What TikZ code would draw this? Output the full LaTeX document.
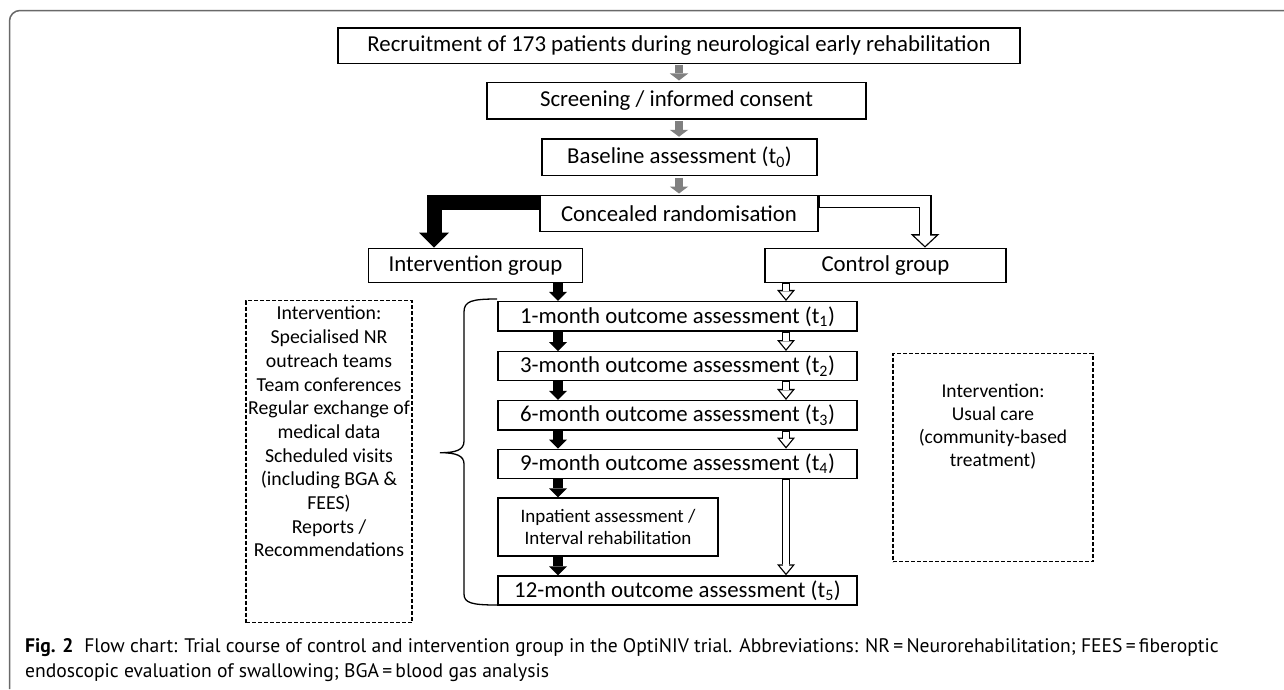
\documentclass[tikz,border=0pt]{standalone}
\usepackage{fontspec}
\setmainfont{Carlito}
\newfontfamily\capfont{PT Sans}
\usetikzlibrary{arrows.meta,calc}
\definecolor{framegray}{RGB}{105,105,105}
\definecolor{arrgray}{RGB}{128,128,128}
\begin{document}
\begin{tikzpicture}[x=1pt,y=-1pt,
  box/.style={draw=black, line width=1.4pt, inner sep=0pt, align=center, font=\fontsize{22.8}{26}\selectfont},
  dbox/.style={draw=black, line width=1.2pt, dash pattern=on 4pt off 2pt, inner sep=0pt},
  ltext/.style={inner sep=0pt, align=center, font=\fontsize{19.8}{23.7}\selectfont},
  rtext/.style={inner sep=0pt, align=center, font=\fontsize{19.5}{22.8}\selectfont},
  grayarr/.style={draw=arrgray, line width=8pt, -{Triangle[width=18.5pt,length=7pt,line width=0pt]}, shorten <=1.5pt, shorten >=1.5pt},
  blkarr/.style={draw=black, line width=10.5pt, -{Triangle[width=18pt,length=9pt,line width=0pt]}},
  holarr/.style={draw=black, line width=8.5pt, -{Triangle[width=18pt,length=11pt,line width=0pt]},
     postaction={draw=white, line width=5.9pt, -{Triangle[width=12.5pt,length=7.6pt,line width=0pt]}, shorten >=2.05pt, shorten <=1pt}},
  bigblk/.style={draw=black, line width=15pt, line join=miter, -{Triangle[width=30pt,length=15pt,line width=0pt]}},
  bighol/.style={draw=black, line width=13pt, line join=miter, -{Triangle[width=28.6pt,length=13.4pt,line width=0pt]},
     postaction={draw=white, line width=10.4pt, line join=miter, -{Triangle[width=22pt,length=10.3pt,line width=0pt]}, shorten >=1.8pt, shorten <=1pt}}
]
\useasboundingbox (0,0) rectangle (1284,689);
\fill[white] (0,0) rectangle (1284,689);
% outer frame
\draw[framegray, line width=1.5pt] (9.5,689) -- (9.5,21) arc[start angle=180, end angle=90, radius=10.5pt] -- (1284,10.5);

% flow boxes
\node[box, minimum width=682pt, minimum height=35.3pt] (rec) at (679,45.6) {Recruitment of 173 patients during neurological early rehabilitation};
\node[box, minimum width=379pt, minimum height=36.3pt] (scr) at (676.5,100.8) {Screening / informed consent};
\node[box, minimum width=275pt, minimum height=36.7pt] (base) at (679.5,157.3) {Baseline assessment (t\textsubscript{0})};
\node[box, minimum width=278pt, minimum height=36pt] (conc) at (679,213.7) {Concealed randomisation};
\node[box, minimum width=214pt, minimum height=34.4pt] (intg) at (475.5,265.5) {Intervention group};
\node[box, minimum width=241pt, minimum height=34.4pt] (ctrl) at (885.5,265.5) {Control group};
\node[box, minimum width=359pt, minimum height=29.3pt] (m1) at (677.5,316.3) {1-month outcome assessment (t\textsubscript{1})};
\node[box, minimum width=359pt, minimum height=29pt] (m3) at (677.5,366.2) {3-month outcome assessment (t\textsubscript{2})};
\node[box, minimum width=359pt, minimum height=29.3pt] (m6) at (677.5,415.3) {6-month outcome assessment (t\textsubscript{3})};
\node[box, minimum width=359pt, minimum height=29.4pt] (m9) at (677.5,464) {9-month outcome assessment (t\textsubscript{4})};
\node[box, minimum width=220pt, minimum height=58pt, font=\fontsize{19}{22.6}\selectfont] (inp) at (608,527) {Inpatient assessment /\\Interval rehabilitation};
\node[box, minimum width=359pt, minimum height=29pt] (m12) at (677.5,590.5) {12-month outcome assessment (t\textsubscript{5})};

% dashed boxes
\node[dbox, minimum width=166pt, minimum height=322pt, anchor=north] (lbox) at (329,300) {};
\node[ltext, anchor=north] (ltx) at ([yshift=-6pt]lbox.north) {Intervention:\\Specialised NR\\outreach teams\\Team conferences\\Regular exchange of\\medical data\\Scheduled visits\\(including BGA \&\\FEES)\\Reports /\\Recommendations};
\node[dbox, minimum width=200pt, minimum height=208pt, anchor=north] (rbox) at (993,353) {};
\node[rtext, anchor=north] (rtx) at ([yshift=-31pt]rbox.north) {Intervention:\\Usual care\\(community-based\\treatment)};

% columns
\coordinate (xa) at (558,0);
\coordinate (xb) at (786,0);

% gray arrows
\draw[grayarr] (rec.south) -- (scr.north -| rec.south);
\draw[grayarr] (scr.south -| rec.south) -- (base.north -| rec.south);
\draw[grayarr] (base.south -| rec.south) -- (conc.north -| rec.south);

% randomisation arrows
\draw[bigblk] ([yshift=-7.5pt]conc.north west) -| ([xshift=-41.5pt]intg.north);
\draw[bighol] ([yshift=-6.5pt]conc.north east) -| ([xshift=39.5pt]ctrl.north);

% intervention column
\draw[blkarr] (intg.south -| xa) -- (m1.north -| xa);
\draw[blkarr] (m1.south -| xa) -- (m3.north -| xa);
\draw[blkarr] (m3.south -| xa) -- (m6.north -| xa);
\draw[blkarr] (m6.south -| xa) -- (m9.north -| xa);
\draw[blkarr] (m9.south -| xa) -- (inp.north -| xa);
\draw[blkarr] (inp.south -| xa) -- (m12.north -| xa);

% control column
\draw[holarr] (ctrl.south -| xb) -- (m1.north -| xb);
\draw[holarr] (m1.south -| xb) -- (m3.north -| xb);
\draw[holarr] (m3.south -| xb) -- (m6.north -| xb);
\draw[holarr] (m6.south -| xb) -- (m9.north -| xb);
\draw[holarr] (m9.south -| xb) -- (m12.north -| xb);

% brace
\draw[black, line width=1.3pt] (497,299) .. controls (472,299) and (464,301) .. (464,312) -- (464,441)
   .. controls (464,450) and (456,452.7) .. (440,452.7)
   .. controls (456,452.7) and (464,455.5) .. (464,464) -- (464,594)
   .. controls (464,603) and (472,605) .. (497,605);

% caption
\node[anchor=base west, inner sep=0pt, font=\capfont\fontsize{19.6}{24}\selectfont] (cap1) at (25,652) {\textbf{Fig. 2}\hspace{0.55em}Flow chart: Trial course of control and intervention group in the OptiNIV trial. Abbreviations: NR\,=\,Neurorehabilitation; FEES\,=\,fiberoptic};
\node[anchor=base west, inner sep=0pt, font=\capfont\fontsize{19.6}{24}\selectfont] (cap2) at (25,677) {endoscopic evaluation of swallowing; BGA\,=\,blood gas analysis};
\end{tikzpicture}
\end{document}
